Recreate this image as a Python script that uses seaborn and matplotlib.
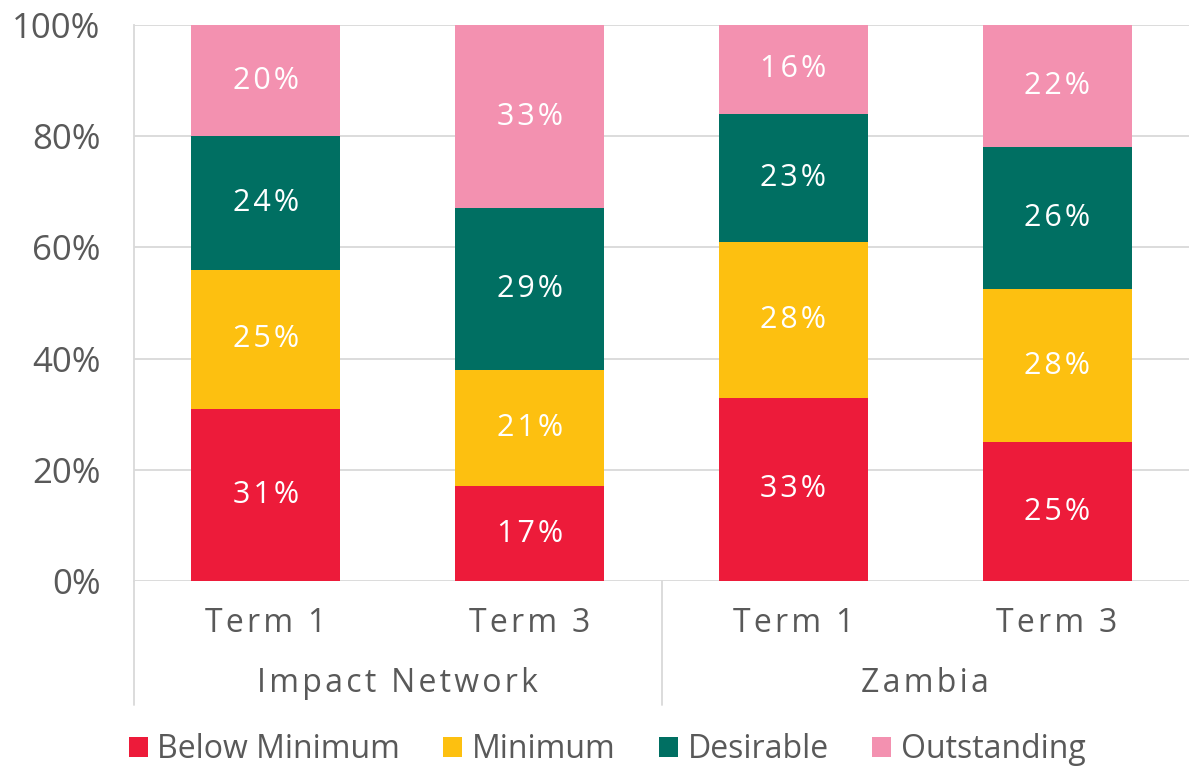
import matplotlib
matplotlib.use("Agg")
import matplotlib.pyplot as plt
import seaborn as sns
import pandas as pd
import numpy as np
from matplotlib.patches import Patch

groups = ["Impact Network", "Impact Network", "Zambia", "Zambia"]
terms = ["Term 1", "Term 3", "Term 1", "Term 3"]
levels = ["Below Minimum", "Minimum", "Desirable", "Outstanding"]
below_minimum = [31, 17, 33, 25]
minimum = [25, 21, 28, 27.5]
desirable = [24, 29, 23, 25.5]
outstanding = [20, 33, 16, 22]
colors = ["#ED1B3A", "#FDC010", "#006F62", "#F391B0"]

sns.set_theme(style="white")
plt.rcParams["font.family"] = ["Open Sans", "DejaVu Sans"]
TXT = "#595959"
GRID = "#D9D9D9"


def spaced(s, n=1):
    return ("\u200a" * n).join(s)


keys = [f"{g}|{t}" for g, t in zip(groups, terms)]
vals = np.array([below_minimum, minimum, desirable, outstanding], dtype=float)
cum = np.cumsum(vals, axis=0)

fig = plt.figure(figsize=(11.89, 7.67), dpi=100)
ax = fig.add_axes([134/1189, 1-581/767, 1-134/1189, (581-25)/767])

# draw cumulative bars from top to bottom
for i in range(len(levels) - 1, -1, -1):
    df = pd.DataFrame({"key": keys, "val": cum[i]})
    sns.barplot(data=df, x="key", y="val", order=keys, color=colors[i],
                saturation=1, width=0.565, ax=ax, errorbar=None, zorder=3,
                linewidth=0)

for j in range(len(keys)):
    base = 0
    for i in range(len(levels)):
        v = vals[i, j]
        ax.text(j, base + v / 2, spaced(f"{v:.0f}%"), ha="center", va="center",
                color="white", fontsize=22, zorder=5)
        base += v

ax.set_xlim(-0.5, 3.5)
ax.set_ylim(0, 100)
ax.set_yticks([0, 20, 40, 60, 80, 100])
ax.set_yticklabels([f"{t}%" for t in [0, 20, 40, 60, 80, 100]], fontsize=25, color=TXT)
ax.yaxis.grid(True, color=GRID, linewidth=1.3, zorder=0)
ax.set_axisbelow(True)
ax.tick_params(axis="y", length=8, color=GRID, width=1.3, pad=16)
ax.set_xticks(range(4))
ax.set_xticklabels([spaced(t, 1) for t in terms], fontsize=23, color=TXT)
ax.tick_params(axis="x", length=0, pad=19)
ax.set_xlabel("")
ax.set_ylabel("")
for s in ["top", "right", "bottom"]:
    ax.spines[s].set_visible(False)
ax.spines["left"].set_color(GRID)
ax.spines["left"].set_linewidth(1.3)

# group separators below axis
trans = ax.get_xaxis_transform()
y_low = -(705 - 581) / 556
for xpos in [-0.5, 1.5]:
    ax.plot([xpos, xpos], [0, y_low], transform=trans, color=GRID, lw=1.3, clip_on=False)
for gx, gname in [(0.5, "Impact Network"), (2.5, "Zambia")]:
    ax.text(gx, -(684 - 581) / 556, spaced(gname, 1), transform=trans, ha="center", va="center",
            fontsize=23, color=TXT)

handles = [Patch(facecolor=c, edgecolor="none") for c in colors]
leg = fig.legend(handles, levels, loc="center", bbox_to_anchor=(607/1189, 1-750/767), ncol=4,
                 frameon=False, fontsize=23, handlelength=0.6, handleheight=0.6,
                 handletextpad=0.3, columnspacing=1.35, labelcolor=TXT)

fig.savefig("out.png", dpi=100)
